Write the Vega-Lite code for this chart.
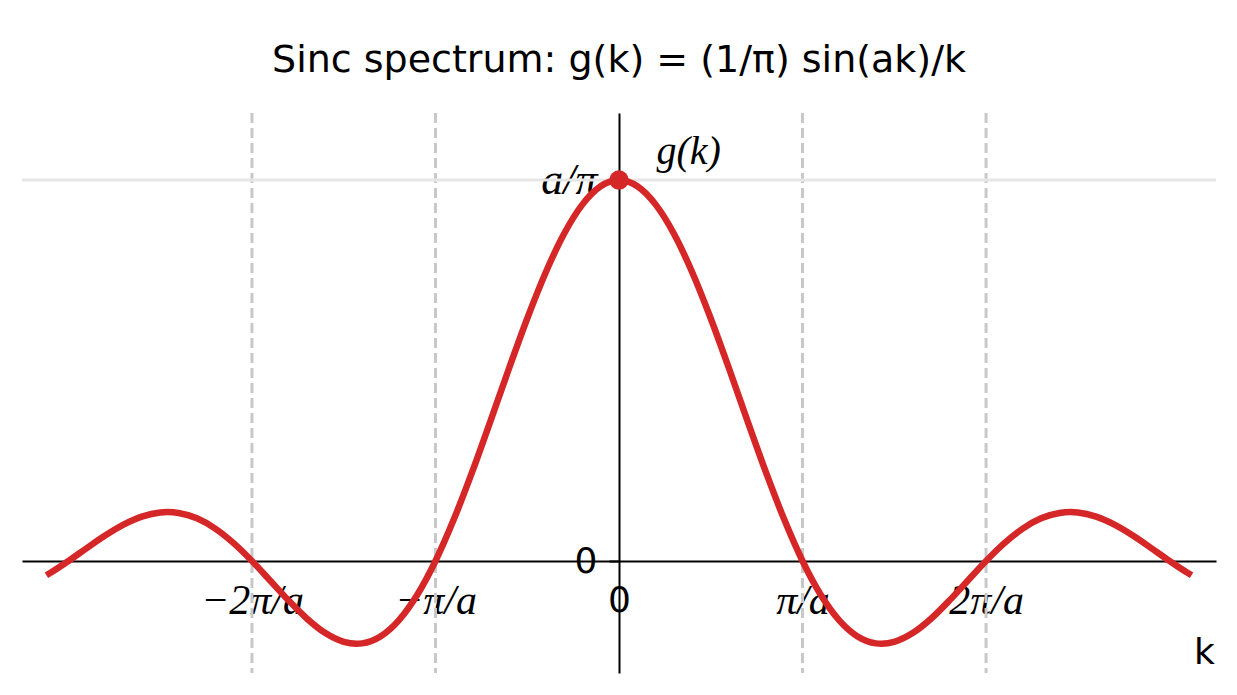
{
  "$schema": "https://vega.github.io/schema/vega-lite/v6.json",
  "description": "Sinc spectrum g(k) = (1/pi) sin(ak)/k, x in units of pi/a, y in units of a/pi",
  "width": 1194,
  "height": 560,
  "autosize": "none",
  "padding": {"left": 22, "top": 113, "right": 21, "bottom": 22},
  "background": "white",
  "title": {
    "text": "Sinc spectrum: g(k) = (1/π) sin(ak)/k",
    "font": "DejaVu Sans",
    "fontSize": 38,
    "fontWeight": "normal",
    "color": "black",
    "anchor": "middle",
    "offset": 32
  },
  "config": {"view": {"stroke": null}},
  "layer": [
    {
      "data": {"values": [{"t": -2}, {"t": -1}, {"t": 1}, {"t": 2}]},
      "mark": {"type": "rule", "color": "#c8c8c8", "strokeWidth": 3, "strokeDash": [10, 5]},
      "encoding": {
        "x": {"field": "t", "type": "quantitative", "scale": {"domain": [-3.253, 3.253], "nice": false, "zero": false}}
      }
    },
    {
      "data": {"values": [{"g": 1}]},
      "mark": {"type": "rule", "color": "#e6e6e6", "strokeWidth": 3},
      "encoding": {
        "y": {"field": "g", "type": "quantitative", "scale": {"domain": [-0.294, 1.176], "nice": false, "zero": false}}
      }
    },
    {
      "data": {
        "values": [
          {"t": -3.12, "g": -0.0376}, {"t": -3.1, "g": -0.0317}, {"t": -3.0, "g": 0},
          {"t": -2.9, "g": 0.0339}, {"t": -2.8, "g": 0.0668}, {"t": -2.7, "g": 0.0954},
          {"t": -2.6, "g": 0.1164}, {"t": -2.5, "g": 0.1273}, {"t": -2.46, "g": 0.1284},
          {"t": -2.4, "g": 0.1261}, {"t": -2.3, "g": 0.112}, {"t": -2.2, "g": 0.085},
          {"t": -2.1, "g": 0.0468}, {"t": -2.0, "g": 0}, {"t": -1.9, "g": -0.0518},
          {"t": -1.8, "g": -0.1039}, {"t": -1.7, "g": -0.1515}, {"t": -1.6, "g": -0.1892},
          {"t": -1.5, "g": -0.2122}, {"t": -1.43, "g": -0.2172}, {"t": -1.4, "g": -0.2162},
          {"t": -1.3, "g": -0.1981}, {"t": -1.2, "g": -0.1559}, {"t": -1.1, "g": -0.0894},
          {"t": -1.0, "g": 0}, {"t": -0.9, "g": 0.1093}, {"t": -0.8, "g": 0.2339},
          {"t": -0.7, "g": 0.3679}, {"t": -0.6, "g": 0.5046}, {"t": -0.5, "g": 0.6366},
          {"t": -0.4, "g": 0.7568}, {"t": -0.3, "g": 0.8584}, {"t": -0.2, "g": 0.9355},
          {"t": -0.1, "g": 0.9836}, {"t": 0, "g": 1},
          {"t": 0.1, "g": 0.9836}, {"t": 0.2, "g": 0.9355}, {"t": 0.3, "g": 0.8584},
          {"t": 0.4, "g": 0.7568}, {"t": 0.5, "g": 0.6366}, {"t": 0.6, "g": 0.5046},
          {"t": 0.7, "g": 0.3679}, {"t": 0.8, "g": 0.2339}, {"t": 0.9, "g": 0.1093},
          {"t": 1.0, "g": 0}, {"t": 1.1, "g": -0.0894}, {"t": 1.2, "g": -0.1559},
          {"t": 1.3, "g": -0.1981}, {"t": 1.4, "g": -0.2162}, {"t": 1.43, "g": -0.2172},
          {"t": 1.5, "g": -0.2122}, {"t": 1.6, "g": -0.1892}, {"t": 1.7, "g": -0.1515},
          {"t": 1.8, "g": -0.1039}, {"t": 1.9, "g": -0.0518}, {"t": 2.0, "g": 0},
          {"t": 2.1, "g": 0.0468}, {"t": 2.2, "g": 0.085}, {"t": 2.3, "g": 0.112},
          {"t": 2.4, "g": 0.1261}, {"t": 2.46, "g": 0.1284}, {"t": 2.5, "g": 0.1273},
          {"t": 2.6, "g": 0.1164}, {"t": 2.7, "g": 0.0954}, {"t": 2.8, "g": 0.0668},
          {"t": 2.9, "g": 0.0339}, {"t": 3.0, "g": 0}, {"t": 3.1, "g": -0.0317},
          {"t": 3.12, "g": -0.0376}
        ]
      },
      "mark": {"type": "line", "color": "#d62728", "strokeWidth": 6.5, "interpolate": "monotone"},
      "encoding": {
        "x": {
          "field": "t",
          "type": "quantitative",
          "scale": {"domain": [-3.253, 3.253], "nice": false, "zero": false},
          "axis": {
            "offset": -112,
            "values": [-2, -1, 0, 1, 2],
            "labelExpr": "datum.value == -2 ? '−2π/a' : datum.value == -1 ? '−π/a' : datum.value == 0 ? '0' : datum.value == 1 ? 'π/a' : '2π/a'",
            "labelFont": {"condition": {"test": "datum.value == 0", "value": "DejaVu Sans"}, "value": "Liberation Serif"},
            "labelFontStyle": {"condition": {"test": "datum.value == 0", "value": "normal"}, "value": "italic"},
            "labelFontSize": {"condition": {"test": "datum.value == 0", "value": 36}, "value": 42},
            "labelColor": "black",
            "labelAlign": "center",
            "labelBaseline": "middle",
            "labelPadding": 39,
            "labelOverlap": false,
            "labelFlush": false,
            "ticks": false,
            "grid": false,
            "domainColor": "black",
            "domainWidth": 2,
            "title": "k",
            "titleFont": "DejaVu Sans",
            "titleFontSize": 36,
            "titleFontWeight": "normal",
            "titleColor": "black",
            "titleAlign": "center",
            "titleBaseline": "middle",
            "titleX": 1182,
            "titleY": 91
          }
        },
        "y": {
          "field": "g",
          "type": "quantitative",
          "scale": {"domain": [-0.294, 1.176], "nice": false, "zero": false},
          "axis": {
            "offset": -597,
            "values": [0, 1],
            "labelExpr": "datum.value == 1 ? 'a/π' : '0'",
            "labelFont": {"condition": {"test": "datum.value == 0", "value": "DejaVu Sans"}, "value": "Liberation Serif"},
            "labelFontStyle": {"condition": {"test": "datum.value == 0", "value": "normal"}, "value": "italic"},
            "labelFontSize": {"condition": {"test": "datum.value == 0", "value": 36}, "value": 44},
            "labelColor": "black",
            "labelAlign": "right",
            "labelBaseline": "middle",
            "labelPadding": 12,
            "labelOverlap": false,
            "labelFlush": false,
            "tickSize": 10,
            "tickColor": "black",
            "tickWidth": 2,
            "grid": false,
            "domainColor": "black",
            "domainWidth": 2,
            "title": "g(k)",
            "titleFont": "Liberation Serif",
            "titleFontStyle": "italic",
            "titleFontSize": 40,
            "titleFontWeight": "normal",
            "titleColor": "black",
            "titleAngle": 0,
            "titleAlign": "left",
            "titleBaseline": "middle",
            "titleX": 37,
            "titleY": 38
          }
        }
      }
    },
    {
      "data": {"values": [{"t": 0, "g": 1}]},
      "mark": {"type": "point", "shape": "circle", "filled": true, "color": "#d62728", "size": 380, "opacity": 1},
      "encoding": {
        "x": {"field": "t", "type": "quantitative", "scale": {"domain": [-3.253, 3.253], "nice": false, "zero": false}},
        "y": {"field": "g", "type": "quantitative", "scale": {"domain": [-0.294, 1.176], "nice": false, "zero": false}}
      }
    }
  ]
}
